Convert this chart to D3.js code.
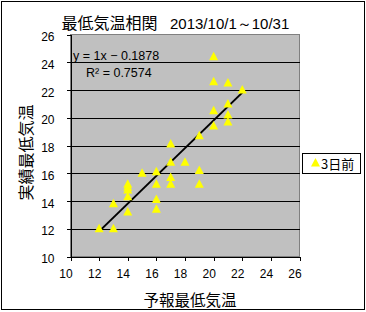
<!DOCTYPE html>
<html>
  <head>
    <meta charset="utf-8">
    <title>最低気温相関</title>
    <script src="https://d3js.org/d3.v7.min.js"></script>
    <style>
      body { margin: 0; background: #fff; }
      svg { display: block; font-family: "Liberation Sans", Arial, sans-serif; }
      .jp { font-family: "Noto Sans CJK JP", sans-serif; }
      .tick text { font-size: 12px; fill: #000; }
      .grid line { stroke: #000; shape-rendering: crispEdges; }
    </style>
  </head>
  <body>
    <svg id="svg" width="366" height="312"></svg>
    <script>
      // data: forecast (x) vs actual (y) minimum temperature, October 2013
      var forecast = [12, 13, 13, 14, 14, 14, 14, 14, 15, 16, 16, 16, 16, 17, 17, 17, 17, 18, 19, 19, 19, 20, 20, 20, 20, 21, 21, 21, 21, 22];
      var actual = [12.0, 12.0, 13.8, 13.2, 14.3, 14.8, 15.0, 15.2, 16.0, 16.1, 15.2, 14.1, 13.4, 18.1, 16.8, 15.7, 15.2, 16.8, 18.7, 16.2, 15.2, 24.4, 22.6, 20.5, 19.4, 22.5, 21.0, 20.2, 19.7, 22.0];
      var xTicks = [10, 12, 14, 16, 18, 20, 22, 24, 26];
      var yTicks = [10, 12, 14, 16, 18, 20, 22, 24, 26];
      var trendSlope = 1;
      var trendIntercept = -0.1878;
      var trendFrom = [12, 22];
      var equationText = "y = 1x − 0.1878";
      var r2Text = "R² = 0.7574";
      var seriesName = "3日前";

      var svg = d3.select("#svg");
      // outer frame
      svg.append("rect")
        .attr("x", 1.5).attr("y", 1.5)
        .attr("width", 363).attr("height", 308)
        .attr("fill", "#fff").attr("stroke", "#000");

      var x = d3.scaleLinear().domain([10, 26]).range([70.5, 299.5]);
      var y = d3.scaleLinear().domain([10, 26]).range([256.5, 34.5]);

      // plot area
      svg.append("rect")
        .attr("x", x(10)).attr("y", y(26))
        .attr("width", x(26) - x(10)).attr("height", y(10) - y(26))
        .attr("fill", "#c0c0c0").attr("stroke", "#808080");

      svg.append("g").attr("class", "grid")
        .selectAll("line")
          .data(yTicks.filter(function(d) { return d > 10 && d < 26; }))
        .enter().append("line")
          .attr("x1", x(10)).attr("x2", x(26))
          .attr("y1", function(d) { return Math.round(y(d)) + 0.5; })
          .attr("y2", function(d) { return Math.round(y(d)) + 0.5; });

      // axes
      var xAxis = svg.append("g")
        .attr("transform", "translate(0," + y(10) + ")")
        .call(d3.axisBottom(x).tickValues(xTicks).tickSize(4).tickSizeOuter(0).tickPadding(9));
      xAxis.selectAll("text").attr("dx", -5);
      var yAxis = svg.append("g")
        .attr("transform", "translate(" + x(10) + ",0)")
        .call(d3.axisLeft(y).tickValues(yTicks).tickSize(4).tickSizeOuter(0).tickPadding(12));
      yAxis.selectAll("text").attr("dy", "0.5em");
      svg.selectAll(".domain, .tick line").attr("stroke", "#000").attr("shape-rendering", "crispEdges");

      // trendline
      svg.append("line")
        .attr("x1", x(trendFrom[0])).attr("y1", y(trendSlope * trendFrom[0] + trendIntercept))
        .attr("x2", x(trendFrom[1])).attr("y2", y(trendSlope * trendFrom[1] + trendIntercept))
        .attr("stroke", "#000").attr("stroke-width", 2);

      // markers
      var tri = "M0,-5L4.5,3.5L-4.5,3.5Z";
      svg.append("g")
        .selectAll("path")
          .data(forecast)
        .enter().append("path")
          .attr("d", tri)
          .attr("fill", "#ffff00")
          .attr("transform", function(d, i) { return "translate(" + x(d) + "," + y(actual[i]) + ")"; });

      // equation labels
      svg.append("text").attr("x", 73).attr("y", 59.5).attr("font-size", 12.5).text(equationText);
      svg.append("text").attr("x", 86).attr("y", 76.5).attr("font-size", 12.5).text(r2Text);

      // titles
      var title = svg.append("text").attr("y", 28.5).attr("font-size", 15);
      title.append("tspan").attr("class", "jp").attr("x", 61.5).attr("font-size", 16).text("最低気温相関");
      title.append("tspan").attr("x", 170).text("2013/10/1～10/31");
      svg.append("text").attr("class", "jp")
        .attr("x", 190).attr("y", 305.5)
        .attr("text-anchor", "middle").attr("font-size", 15.5)
        .text("予報最低気温");
      svg.append("text").attr("class", "jp")
        .attr("transform", "translate(32,152.5) rotate(-90)")
        .attr("text-anchor", "middle").attr("font-size", 16)
        .text("実績最低気温");

      // legend
      var legend = svg.append("g");
      legend.append("rect")
        .attr("x", 302.5).attr("y", 153.5)
        .attr("width", 58).attr("height", 20)
        .attr("fill", "#fff").attr("stroke", "#000");
      legend.append("path").attr("d", tri).attr("fill", "#ffff00")
        .attr("transform", "translate(315.5,163)");
      legend.append("text").attr("class", "jp")
        .attr("x", 321).attr("y", 168.5).attr("font-size", 13)
        .text(seriesName);
    </script>
  </body>
</html>
